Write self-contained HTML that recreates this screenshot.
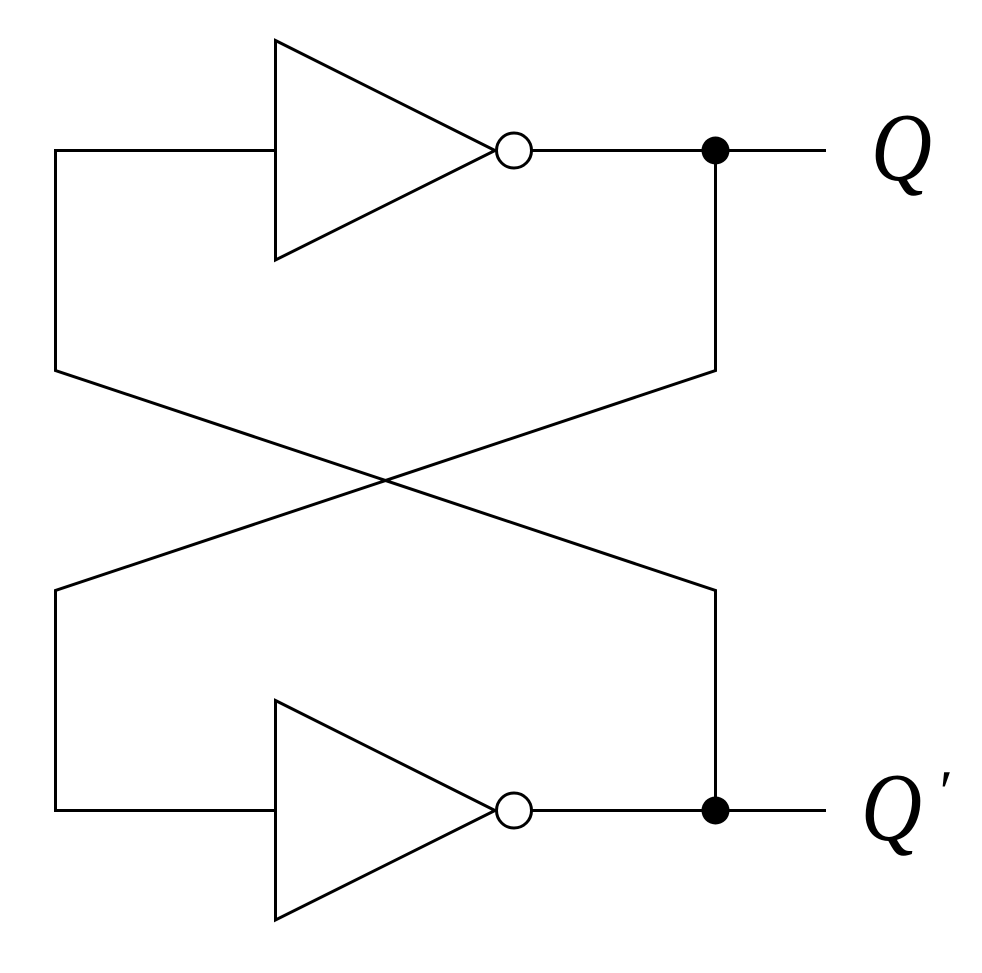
<!DOCTYPE html>
<html>
<head>
<meta charset="utf-8">
<style>
html,body{margin:0;padding:0;background:#fff;}
svg{display:block;}
.lbl{font-family:"Liberation Serif","Times New Roman",serif;font-style:italic;font-weight:normal;fill:#000;}
</style>
</head>
<body>
<svg width="982" height="973" viewBox="0 0 982 973" xmlns="http://www.w3.org/2000/svg">
<g fill="none" stroke="#000" stroke-width="3" stroke-linejoin="miter">
  <polygon points="275.5,40.5 495,150.5 275.5,260"/>
  <circle cx="514" cy="150.5" r="17.5" fill="#fff"/>
  <polygon points="275.5,700.5 495,810.5 275.5,920"/>
  <circle cx="514" cy="810.5" r="17.5" fill="#fff"/>
  <polyline points="275.5,150.5 55.5,150.5 55.5,370.5 715.5,590.5 715.5,810.5"/>
  <line x1="531.5" y1="150.5" x2="826" y2="150.5"/>
  <polyline points="715.5,150.5 715.5,370.5 55.5,590.5 55.5,810.5 275.5,810.5"/>
  <line x1="531.5" y1="810.5" x2="826" y2="810.5"/>
</g>
<circle cx="715.5" cy="150.5" r="14" fill="#000"/>
<circle cx="715.5" cy="810.5" r="14" fill="#000"/>
<text class="lbl" transform="translate(871,180) scale(0.86,1)" x="0" y="0" font-size="98">Q</text>
<text class="lbl" transform="translate(861,840) scale(0.86,1)" x="0" y="0" font-size="98">Q</text>
<text class="lbl" x="936" y="812" font-size="60">′</text>
</svg>
</body>
</html>
